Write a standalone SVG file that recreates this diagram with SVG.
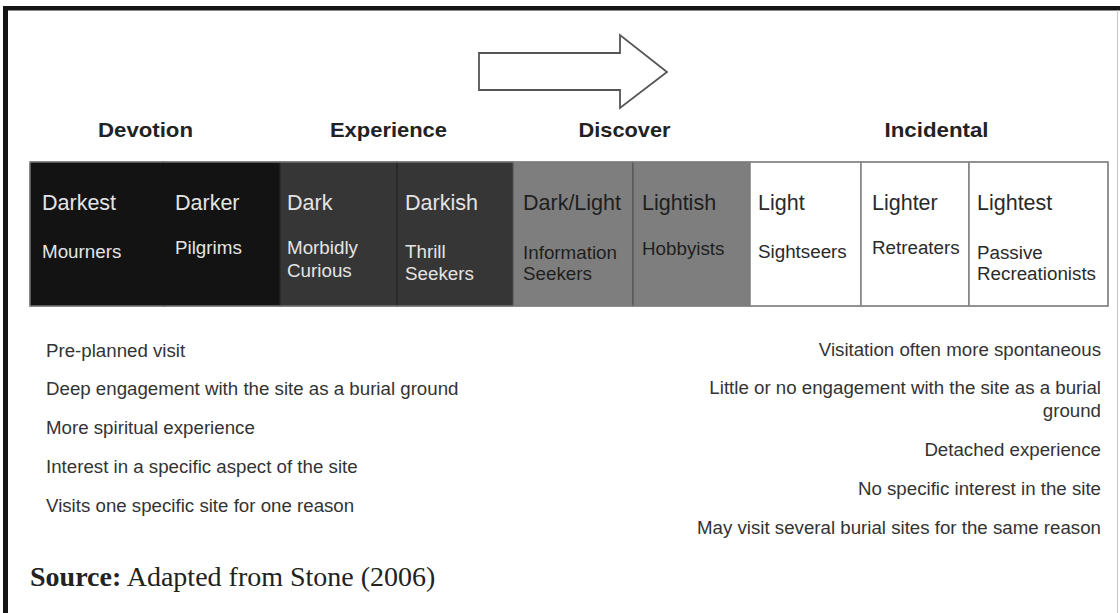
<svg xmlns="http://www.w3.org/2000/svg" width="1120" height="613" viewBox="0 0 1120 613">
<style>
  .hdr { font-family: "Liberation Sans", Arial, sans-serif; font-weight: bold; font-size: 21px; fill: #222; text-anchor: middle; }
  .t1 { font-family: "Liberation Sans", Arial, sans-serif; font-size: 21.5px; }
  .t2 { font-family: "Liberation Sans", Arial, sans-serif; font-size: 18.8px; }
  .lt { fill: #e4e4e4; }
  .dk { fill: #1e1e1e; }
  .wd { fill: #2a2a2a; }
  .lst { font-family: "Liberation Sans", Arial, sans-serif; font-size: 18.7px; fill: #333; }
  .rgt { text-anchor: end; }
  .cellW { fill: #ffffff; stroke: #808080; stroke-width: 1.5; }
  .cellG { fill: #7e7e7e; stroke: #555; stroke-width: 1.2; }
  .cellD { fill: #363636; stroke: #262626; stroke-width: 1.2; }
  .cellB { fill: #131313; stroke: #131313; stroke-width: 1; }
</style>
<rect x="0" y="0" width="1120" height="613" fill="#ffffff"/>
<g id="frame">
  <rect x="3" y="6" width="1117" height="4.5" fill="#141414"/>
  <rect x="3" y="6" width="5" height="607" fill="#141414"/>
  <line x1="1117.5" y1="10" x2="1117.5" y2="613" stroke="#c8c8c8" stroke-width="1"/>
</g>
<g id="connectors">
  <polygon points="479,53 620,53 620,35 667,72 620,108 620,90 479,90" fill="#ffffff" stroke="#555" stroke-width="1.8" stroke-linejoin="miter"/>
</g>
<g id="headers">
  <text id="h-devotion" class="hdr" x="145.5" y="137" textLength="95" lengthAdjust="spacingAndGlyphs">Devotion</text>
  <text id="h-experience" class="hdr" x="388.5" y="137" textLength="117" lengthAdjust="spacingAndGlyphs">Experience</text>
  <text id="h-discover" class="hdr" x="624.5" y="137" textLength="92" lengthAdjust="spacingAndGlyphs">Discover</text>
  <text id="h-incidental" class="hdr" x="936.5" y="137" textLength="104" lengthAdjust="spacingAndGlyphs">Incidental</text>
</g>
<g id="table">
  <g id="darkest">
    <rect class="cellB" x="30" y="162" width="134" height="144"/>
    <text class="t1 lt" x="42" y="210">Darkest</text>
    <text class="t2 lt" x="42" y="258">Mourners</text>
  </g>
  <g id="darker">
    <rect class="cellB" x="163" y="162" width="117" height="144"/>
    <text class="t1 lt" x="175" y="210">Darker</text>
    <text class="t2 lt" x="175" y="254">Pilgrims</text>
  </g>
  <g id="dark">
    <rect class="cellD" x="280" y="162" width="117" height="144"/>
    <text class="t1 lt" x="287" y="210">Dark</text>
    <text class="t2 lt" x="287" y="254">Morbidly</text>
    <text class="t2 lt" x="287" y="277">Curious</text>
  </g>
  <g id="darkish">
    <rect class="cellD" x="397" y="162" width="116" height="144"/>
    <text class="t1 lt" x="405" y="210">Darkish</text>
    <text class="t2 lt" x="405" y="258">Thrill</text>
    <text class="t2 lt" x="405" y="280">Seekers</text>
  </g>
  <g id="darklight">
    <rect class="cellG" x="513" y="162" width="120" height="144"/>
    <text class="t1 dk" x="523" y="210">Dark/Light</text>
    <text class="t2 dk" x="523" y="259">Information</text>
    <text class="t2 dk" x="523" y="280">Seekers</text>
  </g>
  <g id="lightish">
    <rect class="cellG" x="633" y="162" width="117" height="144"/>
    <text class="t1 dk" x="642" y="210">Lightish</text>
    <text class="t2 dk" x="642" y="255">Hobbyists</text>
  </g>
  <g id="light">
    <rect class="cellW" x="750" y="162" width="111" height="144"/>
    <text class="t1 wd" x="758" y="210">Light</text>
    <text class="t2 wd" x="758" y="258">Sightseers</text>
  </g>
  <g id="lighter">
    <rect class="cellW" x="861" y="162" width="108" height="144"/>
    <text class="t1 wd" x="872" y="210">Lighter</text>
    <text class="t2 wd" x="872" y="254">Retreaters</text>
  </g>
  <g id="lightest">
    <rect class="cellW" x="969" y="162" width="139" height="144"/>
    <text class="t1 wd" x="977" y="210">Lightest</text>
    <text class="t2 wd" x="977" y="259">Passive</text>
    <text class="t2 wd" x="977" y="280">Recreationists</text>
  </g>
  <rect x="30" y="162" width="1078" height="144" fill="none" stroke="#8a8a8a" stroke-width="1.2"/>
</g>
<g id="left-list">
  <text class="lst" x="46" y="357">Pre-planned visit</text>
  <text class="lst" x="46" y="395">Deep engagement with the site as a burial ground</text>
  <text class="lst" x="46" y="434">More spiritual experience</text>
  <text class="lst" x="46" y="473">Interest in a specific aspect of the site</text>
  <text class="lst" x="46" y="512">Visits one specific site for one reason</text>
</g>
<g id="right-list">
  <text class="lst rgt" x="1101" y="356">Visitation often more spontaneous</text>
  <text class="lst rgt" x="1101" y="394">Little or no engagement with the site as a burial</text>
  <text class="lst rgt" x="1101" y="417">ground</text>
  <text class="lst rgt" x="1101" y="456">Detached experience</text>
  <text class="lst rgt" x="1101" y="495">No specific interest in the site</text>
  <text class="lst rgt" x="1101" y="534">May visit several burial sites for the same reason</text>
</g>
<g id="source">
  <text x="30" y="586" font-family="'Liberation Serif', 'Times New Roman', serif" font-size="28" fill="#222"><tspan font-weight="bold">Source:</tspan> Adapted from Stone (2006)</text>
</g>
</svg>
